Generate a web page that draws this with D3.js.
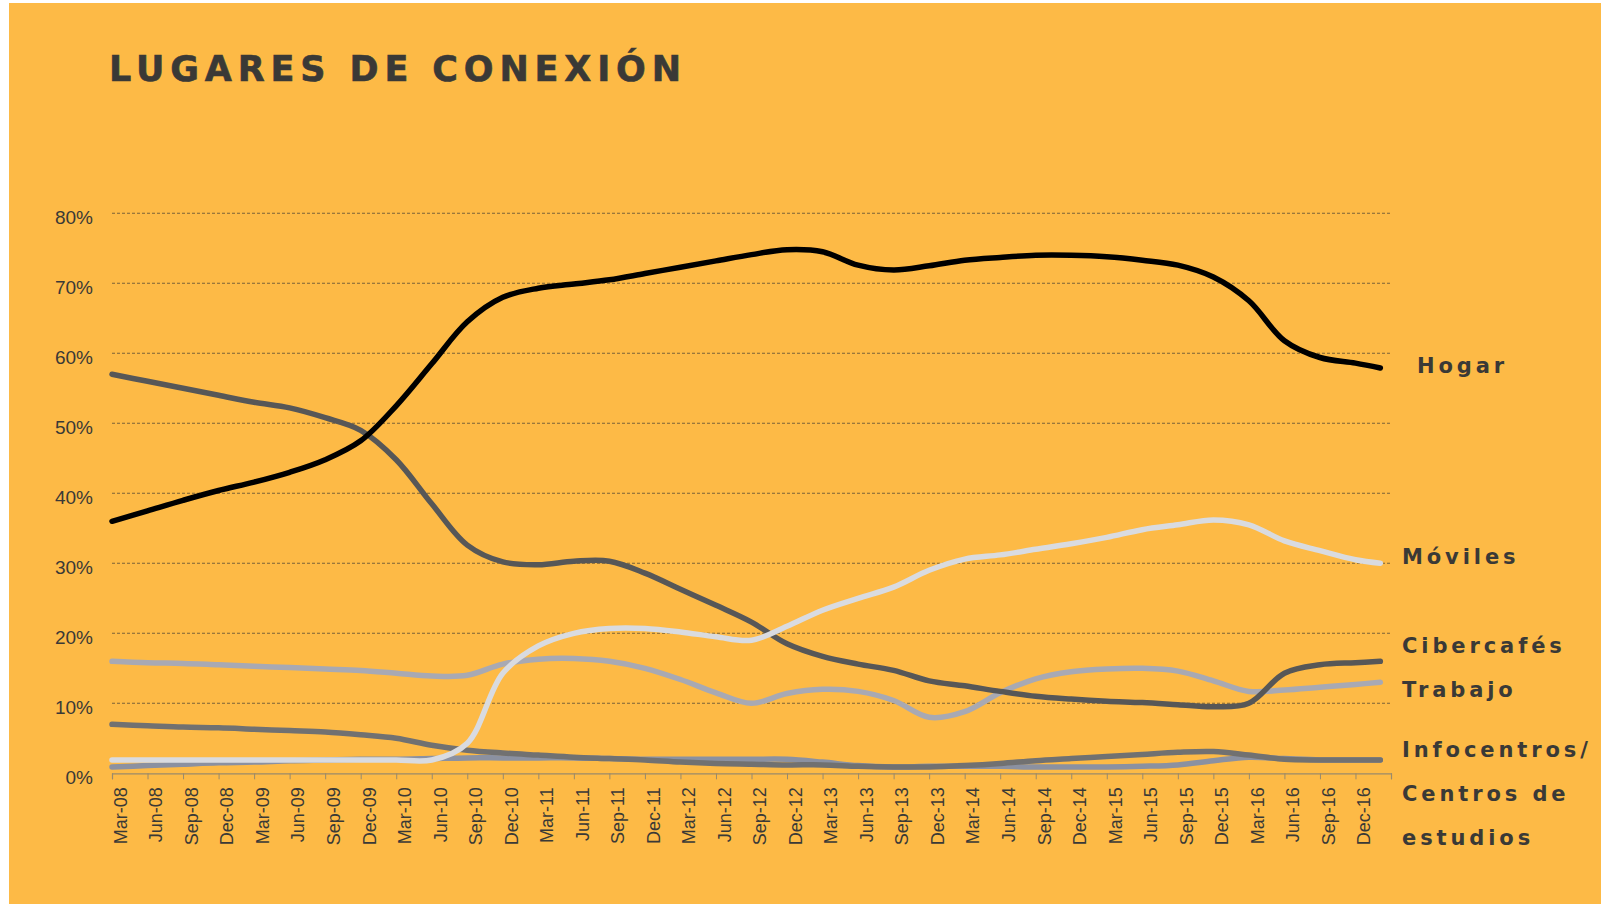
<!DOCTYPE html>
<html>
<head>
<meta charset="utf-8">
<script src="https://cdn.jsdelivr.net/npm/d3@7"></script>
<style>
  html, body { margin: 0; padding: 0; background: #ffffff; }
  svg { display: block; }
</style>
</head>
<body>
<svg id="chart" width="1601" height="911"></svg>
<script>
// ---------- DATA ----------
const quarterLabels = ["Mar-08","Jun-08","Sep-08","Dec-08","Mar-09","Jun-09","Sep-09","Dec-09",
  "Mar-10","Jun-10","Sep-10","Dec-10","Mar-11","Jun-11","Sep-11","Dec-11",
  "Mar-12","Jun-12","Sep-12","Dec-12","Mar-13","Jun-13","Sep-13","Dec-13",
  "Mar-14","Jun-14","Sep-14","Dec-14","Mar-15","Jun-15","Sep-15","Dec-15",
  "Mar-16","Jun-16","Sep-16","Dec-16"];
// position of each observation, in quarters since Mar-08
const obsIndex = [0,1,2,3,4,5,6,7,8,9,10,11,12,13,14,15,16,17,18,19,20,21,22,23,24,25,26,27,28,29,30,31,32,33,34,35,35.7];
const yTicks = [0,10,20,30,40,50,60,70,80];

const hogar = [36.0,37.5,39.0,40.4,41.6,43.0,44.8,47.5,52.5,58.5,64.5,68.0,69.3,69.9,70.5,71.4,72.3,73.2,74.1,74.8,
  74.5,72.6,71.9,72.5,73.3,73.7,74.0,74.0,73.8,73.3,72.6,70.9,67.5,61.8,59.4,58.6,57.9];
const moviles = [1.9,1.9,1.9,1.9,1.9,1.9,1.9,1.9,1.9,1.9,4.3,14.3,18.2,20.0,20.7,20.7,20.2,19.5,19.0,21.0,
  23.3,25.0,26.6,29.0,30.6,31.2,32.0,32.8,33.7,34.8,35.5,36.2,35.5,33.2,31.8,30.5,30.0];
const cibercafes = [57.0,56.0,55.0,54.0,53.0,52.2,50.8,49.0,44.8,38.5,32.6,30.2,29.8,30.3,30.3,28.6,26.3,24.0,21.6,18.5,
  16.7,15.6,14.7,13.2,12.5,11.7,11.0,10.6,10.3,10.1,9.8,9.5,10.0,14.3,15.5,15.8,16.0];
const trabajo = [16.0,15.8,15.7,15.5,15.3,15.1,14.9,14.7,14.3,13.9,14.0,15.6,16.3,16.4,16.0,15.0,13.4,11.5,10.0,11.4,
  12.0,11.7,10.4,8.0,8.8,11.5,13.5,14.5,14.9,15.0,14.6,13.2,11.7,11.9,12.3,12.7,13.0];
const infocentros = [7.0,6.8,6.6,6.5,6.3,6.1,5.9,5.5,5.0,4.0,3.3,2.9,2.6,2.3,2.1,1.9,1.6,1.4,1.3,1.2,
  1.2,1.0,0.9,0.9,1.1,1.4,1.8,2.1,2.4,2.7,3.0,3.1,2.6,2.0,1.9,1.9,1.9];
const centrosEstudios = [0.9,1.1,1.3,1.5,1.6,1.8,1.9,2.0,2.0,2.1,2.2,2.2,2.2,2.2,2.1,2.0,2.0,2.0,2.0,2.0,
  1.6,1.1,0.9,1.0,1.0,1.0,0.9,0.9,0.9,1.0,1.2,1.8,2.3,2.1,1.9,1.9,1.9];

const seriesNames = ["Centros de estudios","Infocentros","Trabajo","Cibercafés","Móviles","Hogar"];
const seriesValues = [centrosEstudios, infocentros, trabajo, cibercafes, moviles, hogar];
const seriesColors = ["#8b91a1","#717171","#a8a9b3","#575757","#d9dbe0","#000000"];

const labelLines = ["Hogar","Móviles","Cibercafés","Trabajo","Infocentros/","Centros de","estudios"];
const titleText = "LUGARES DE CONEXIÓN";

// ---------- LAYOUT ----------
const svg = d3.select("#chart");
const W = 1601, H = 911;
const bg = "#fdba46";
const textDark = "#3a3936";

svg.append("rect").attr("x", 9).attr("y", 3).attr("width", W - 9).attr("height", H - 10).attr("fill", bg);

const plot = {left: 112, right: 1391, top: 213.3, bottom: 773.3};
const x = d3.scaleLinear().domain([0, 36]).range([plot.left, plot.right]);
const y = d3.scaleLinear().domain([0, 80]).range([plot.bottom, plot.top]);

// title
svg.append("text")
  .attr("x", 109).attr("y", 81)
  .attr("textLength", 572).attr("lengthAdjust", "spacing")
  .attr("font-family", "'DejaVu Sans', sans-serif").attr("font-weight", 700)
  .attr("font-size", 35).attr("fill", textDark)
  .attr("stroke", textDark).attr("stroke-width", 0.6)
  .text(titleText);

// gridlines
const grid = svg.append("g");
grid.selectAll("line").data(yTicks.filter(d => d > 0)).join("line")
  .attr("x1", plot.left).attr("x2", plot.right)
  .attr("y1", d => y(d)).attr("y2", d => y(d))
  .attr("stroke", "#7b6338").attr("stroke-width", 1.1)
  .attr("stroke-dasharray", "3,2");

// y-axis
const yAxis = d3.axisLeft(y).tickValues(yTicks).tickFormat(d => d + "%").tickSize(0).tickPadding(19);
const gy = svg.append("g").attr("transform", `translate(${plot.left},0)`).call(yAxis);
gy.select(".domain").remove();
gy.selectAll("text")
  .attr("font-family", "'Liberation Sans', Arial, sans-serif")
  .attr("font-size", 19).attr("fill", textDark).attr("dy", "0.55em");

// x-axis
const xAxis = d3.axisBottom(x).tickValues(d3.range(0, 37)).tickSize(6)
  .tickFormat(i => quarterLabels[i] || "");
const gx = svg.append("g").attr("transform", `translate(0,${plot.bottom})`).call(xAxis);
gx.select(".domain").attr("stroke", "#9a8a6a").attr("stroke-width", 1.2);
gx.selectAll(".tick line").attr("stroke", "#9a8a6a");
gx.selectAll("text")
  .attr("font-family", "'Liberation Sans', Arial, sans-serif")
  .attr("font-size", 18).attr("fill", textDark)
  .attr("text-anchor", "end")
  .attr("transform", "translate(8,14) rotate(-90)")
  .attr("x", 0).attr("y", 0).attr("dy", "0.35em");

// lines
const line = d3.line()
  .x((d, i) => x(obsIndex[i]))
  .y(d => y(d))
  .curve(d3.curveCatmullRom.alpha(0.5));

svg.append("g").selectAll("path").data(seriesValues).join("path")
  .attr("d", d => line(d))
  .attr("fill", "none")
  .attr("stroke", (d, i) => seriesColors[i])
  .attr("stroke-width", 5.5)
  .attr("stroke-linecap", "round")
  .attr("stroke-linejoin", "round");

// right labels
const labelPos = [
  {x: 1417, y: 373}, {x: 1402, y: 564}, {x: 1402, y: 653}, {x: 1402, y: 697},
  {x: 1402, y: 757}, {x: 1402, y: 801}, {x: 1402, y: 845}
];
svg.append("g").selectAll("text").data(labelLines).join("text")
  .attr("x", (d, i) => labelPos[i].x).attr("y", (d, i) => labelPos[i].y)
  .attr("font-family", "'DejaVu Sans', sans-serif").attr("font-weight", 700)
  .attr("font-size", 21).attr("letter-spacing", 3.9).attr("fill", textDark)
  .text(d => d);
</script>
</body>
</html>
